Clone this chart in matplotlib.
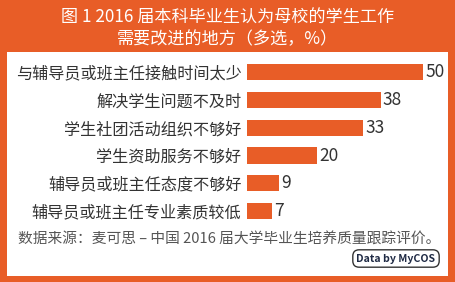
import matplotlib
matplotlib.use('Agg')
import matplotlib.pyplot as plt
import matplotlib.patches as patches

plt.rcParams['font.family'] = ['Noto Sans CJK SC', 'DejaVu Sans']

ORANGE = '#E85D27'
W, H = 455, 282

categories = ['与辅导员或班主任接触时间太少', '解决学生问题不及时', '学生社团活动组织不够好',
              '学生资助服务不够好', '辅导员或班主任态度不够好', '辅导员或班主任专业素质较低']
values = [50, 38, 33, 20, 9, 7]

title = '图 1 2016 届本科毕业生认为母校的学生工作\n需要改进的地方（多选，%）'
source = '数据来源：麦可思 – 中国 2016 届大学毕业生培养质量跟踪评价。'

fig = plt.figure(figsize=(W / 100, H / 100), dpi=100)
fig.patch.set_facecolor(ORANGE)

# pixel coords -> figure fraction
def fx(px):
    return px / W

def fy(py):
    return 1 - py / H

panel = patches.Rectangle((fx(7), fy(276)), fx(448) - fx(7), fy(52) - fy(276),
                          transform=fig.transFigure, fc='white', ec='none', zorder=-5)
fig.patches.append(panel)

fig.text(0.5, fy(28), title, ha='center', va='center', color='white',
         fontsize=12.3, linespacing=1.25)

# bar axes
top, step = 72.3, 27.74
y0 = top - 0.5 * step
y1 = top + 5.5 * step
ax = fig.add_axes([fx(247), fy(y1), fx(200), (y1 - y0) / H])
ax.set_facecolor('none')
pos = list(range(len(categories)))
ax.barh(pos, values, height=0.58, color=ORANGE)
ax.set_xlim(0, 200 / 3.52)
ax.set_ylim(5.5, -0.5)
ax.set_yticks(pos)
ax.set_yticklabels(categories, fontsize=11.6, color='#333333')
ax.tick_params(length=0, pad=4)
ax.set_xticks([])
for s in ax.spines.values():
    s.set_visible(False)
for p, v in zip(pos, values):
    ax.text(v + 0.6, p, str(v), va='center', ha='left', fontsize=12.5, color='#333333')

fig.text(fx(18), fy(240), source, ha='left', va='center', fontsize=10.6, color='#555555')

fig.text(fx(396), fy(258.5), 'Data by MyCOS', ha='center', va='center', fontsize=7.6,
         fontweight='bold', color='#1F2A44',
         bbox=dict(boxstyle='round,pad=0.35,rounding_size=0.6', fc='white', ec='#333333', lw=1))

fig.savefig('out.png', dpi=100, facecolor=ORANGE)
